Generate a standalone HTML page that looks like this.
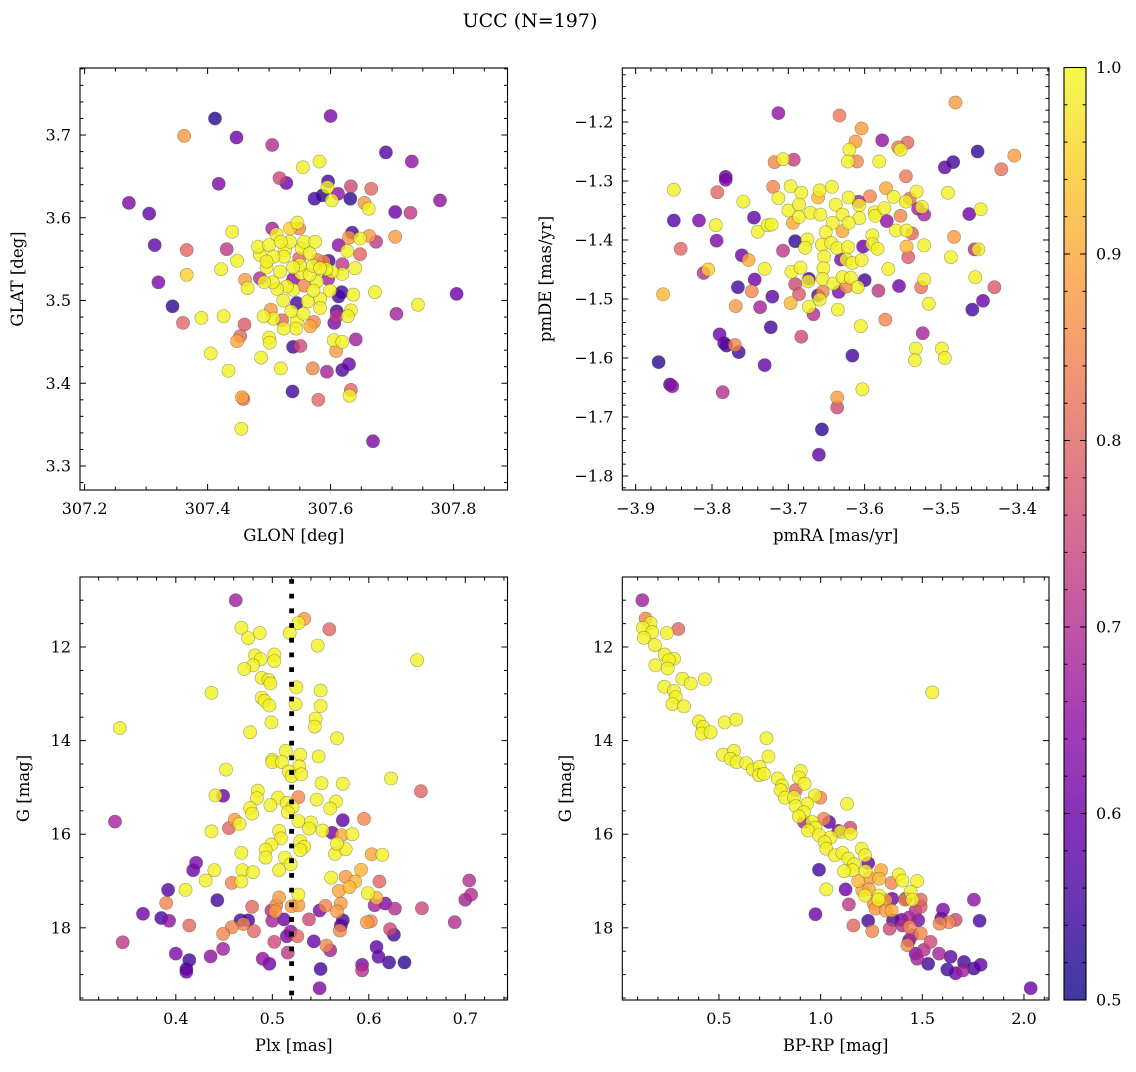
<!DOCTYPE html>
<html><head><meta charset="utf-8"><style>
html,body{margin:0;padding:0;background:#fff}
svg text{font-family:"DejaVu Serif","Liberation Serif",serif;fill:#000}
</style></head><body>
<svg id="fig" width="1136" height="1067" viewBox="0 0 1136 1067" xmlns="http://www.w3.org/2000/svg">
<defs>
<linearGradient id="plasmaGrad" x1="0" y1="1" x2="0" y2="0">
<stop offset="0" stop-color="#0d0887" stop-opacity="0.8"/><stop offset="0.1" stop-color="#41049d" stop-opacity="0.8"/><stop offset="0.2" stop-color="#6a00a8" stop-opacity="0.8"/><stop offset="0.3" stop-color="#8f0da4" stop-opacity="0.8"/><stop offset="0.4" stop-color="#b12a90" stop-opacity="0.8"/><stop offset="0.5" stop-color="#cc4778" stop-opacity="0.8"/><stop offset="0.6" stop-color="#e16462" stop-opacity="0.8"/><stop offset="0.7" stop-color="#f2844b" stop-opacity="0.8"/><stop offset="0.8" stop-color="#fca636" stop-opacity="0.8"/><stop offset="0.9" stop-color="#fcce25" stop-opacity="0.8"/><stop offset="1" stop-color="#f0f921" stop-opacity="0.8"/>
</linearGradient>
</defs>
<text x="530" y="27" font-size="19" text-anchor="middle">UCC (N=197)</text>
</svg>
<script>
// ---- Panel 1 data: GLON / GLAT ----
const glon=[307.412,307.600,307.362,307.447,307.505,307.690,307.732,307.555,307.582,307.418,307.517,307.528,307.596,307.595,307.612,307.633,307.666,307.574,307.587,307.602,307.632,307.655,307.662,307.272,307.778,307.305,307.705,307.730,307.314,307.366,307.431,307.440,307.505,307.534,307.546,307.549,307.635,307.630,307.648,307.663,307.674,307.705,307.613,307.627,307.648,307.320,307.366,307.448,307.422,307.343,307.360,307.390,307.426,307.460,307.453,307.448,307.405,307.434,307.487,307.500,307.501,307.519,307.539,307.551,307.571,307.594,307.619,307.630,307.641,307.609,307.605,307.619,307.538,307.458,307.456,307.580,307.633,307.631,307.455,307.669,307.805,307.742,307.707,307.672,307.637,307.618,307.613,307.610,307.610,307.606,307.633,307.628,307.597,307.619,307.589,307.640,307.619,307.602,307.593,307.596,307.599,307.583,307.583,307.545,307.563,307.573,307.567,307.545,307.544,307.524,307.521,307.507,307.503,307.491,307.536,307.556,307.523,307.539,307.529,307.513,307.506,307.485,307.492,307.461,307.465,307.557,307.578,307.572,307.552,307.566,307.571,307.550,307.539,307.518,307.496,307.485,307.482,307.500,307.512,307.526,307.524,307.507,307.496,307.553,307.566,307.557,307.575,307.549,307.534,307.519,307.539,307.583,307.578];
const glat=[3.720,3.723,3.699,3.697,3.688,3.679,3.668,3.661,3.668,3.641,3.648,3.642,3.644,3.637,3.629,3.638,3.635,3.623,3.627,3.621,3.623,3.618,3.611,3.618,3.621,3.605,3.607,3.606,3.567,3.561,3.562,3.583,3.587,3.587,3.594,3.587,3.582,3.576,3.575,3.578,3.571,3.577,3.567,3.560,3.556,3.522,3.531,3.548,3.538,3.493,3.473,3.479,3.481,3.471,3.457,3.451,3.436,3.415,3.431,3.455,3.449,3.418,3.444,3.445,3.418,3.414,3.416,3.423,3.453,3.439,3.452,3.450,3.390,3.381,3.383,3.380,3.392,3.385,3.345,3.330,3.508,3.495,3.484,3.510,3.507,3.510,3.505,3.487,3.481,3.473,3.488,3.481,3.548,3.544,3.547,3.539,3.532,3.535,3.538,3.526,3.512,3.502,3.491,3.497,3.499,3.474,3.469,3.475,3.466,3.466,3.476,3.478,3.489,3.481,3.487,3.484,3.500,3.513,3.517,3.514,3.522,3.527,3.522,3.525,3.515,3.518,3.523,3.512,3.533,3.531,3.542,3.543,3.526,3.535,3.540,3.555,3.565,3.567,3.580,3.561,3.553,3.553,3.547,3.563,3.557,3.571,3.571,3.551,3.571,3.571,3.540,3.539,3.549];
const prob1=[.52,.62,.88,.6,.7,.57,.65,.99,.99,.62,.75,.6,.55,.99,.65,.75,.8,.55,.52,.99,.53,.88,.99,.62,.65,.58,.6,.72,.58,.8,.72,.99,.68,.95,.99,.85,.55,.88,.99,.88,.72,.88,.65,.99,.8,.62,.95,.99,.99,.53,.8,.99,.99,.78,.8,.9,.99,.99,.99,.99,.99,.99,.55,.75,.85,.68,.57,.6,.67,.88,.99,.99,.55,.8,.9,.8,.8,.99,.99,.62,.6,.99,.68,.99,.99,.55,.55,.55,.72,.62,.99,.99,.55,.72,.85,.99,.99,.99,.99,.68,.99,.99,.99,.55,.99,.85,.9,.99,.99,.99,.8,.99,.88,.99,.99,.99,.99,.99,.99,.99,.99,.7,.99,.88,.99,.85,.99,.99,.99,.99,.99,.99,.65,.99,.99,.99,.99,.99,.99,.99,.99,.99,.99,.99,.99,.99,.99,.8,.99,.99,.99,.99,.85];
// ---- Panel 2 data: pmRA / pmDE ----
const pmra=[-3.481,-3.713,-3.633,-3.604,-3.612,-3.577,-3.556,-3.544,-3.553,-3.620,-3.622,-3.610,-3.581,-3.452,-3.404,-3.484,-3.495,-3.421,-3.718,-3.707,-3.693,-3.782,-3.782,-3.793,-3.850,-3.546,-3.491,-3.720,-3.697,-3.713,-3.683,-3.659,-3.643,-3.661,-3.621,-3.593,-3.572,-3.562,-3.532,-3.541,-3.546,-3.759,-3.850,-3.817,-3.795,-3.745,-3.794,-3.841,-3.740,-3.727,-3.722,-3.700,-3.686,-3.694,-3.686,-3.671,-3.658,-3.638,-3.629,-3.607,-3.608,-3.607,-3.621,-3.642,-3.651,-3.629,-3.587,-3.586,-3.574,-3.571,-3.553,-3.530,-3.525,-3.522,-3.463,-3.448,-3.559,-3.545,-3.538,-3.590,-3.691,-3.675,-3.678,-3.707,-3.656,-3.644,-3.636,-3.622,-3.602,-3.590,-3.583,-3.545,-3.522,-3.483,-3.456,-3.451,-3.487,-3.543,-3.761,-3.752,-3.653,-3.631,-3.624,-3.616,-3.604,-3.811,-3.805,-3.731,-3.696,-3.684,-3.654,-3.569,-3.455,-3.744,-3.766,-3.748,-3.721,-3.737,-3.769,-3.864,-3.691,-3.686,-3.697,-3.673,-3.674,-3.655,-3.641,-3.629,-3.618,-3.624,-3.634,-3.655,-3.661,-3.659,-3.673,-3.667,-3.635,-3.600,-3.609,-3.582,-3.555,-3.526,-3.522,-3.516,-3.459,-3.445,-3.430,-3.605,-3.573,-3.524,-3.533,-3.534,-3.499,-3.495,-3.723,-3.683,-3.790,-3.784,-3.781,-3.770,-3.765,-3.870,-3.731,-3.616,-3.855,-3.852,-3.786,-3.603,-3.636,-3.636,-3.656,-3.660];
const pmde=[-1.167,-1.185,-1.189,-1.211,-1.233,-1.231,-1.243,-1.235,-1.247,-1.247,-1.267,-1.267,-1.267,-1.250,-1.257,-1.268,-1.277,-1.280,-1.268,-1.263,-1.264,-1.293,-1.298,-1.319,-1.315,-1.292,-1.320,-1.310,-1.309,-1.329,-1.320,-1.316,-1.310,-1.328,-1.328,-1.326,-1.312,-1.327,-1.318,-1.330,-1.335,-1.335,-1.367,-1.367,-1.375,-1.362,-1.401,-1.415,-1.386,-1.375,-1.374,-1.350,-1.340,-1.371,-1.361,-1.354,-1.357,-1.340,-1.357,-1.341,-1.335,-1.363,-1.371,-1.371,-1.387,-1.385,-1.353,-1.359,-1.346,-1.368,-1.359,-1.347,-1.344,-1.357,-1.356,-1.348,-1.384,-1.384,-1.389,-1.392,-1.402,-1.399,-1.413,-1.418,-1.408,-1.405,-1.414,-1.412,-1.411,-1.407,-1.415,-1.411,-1.409,-1.395,-1.416,-1.416,-1.429,-1.429,-1.426,-1.434,-1.428,-1.433,-1.433,-1.439,-1.434,-1.456,-1.450,-1.449,-1.454,-1.447,-1.448,-1.449,-1.463,-1.467,-1.480,-1.487,-1.496,-1.514,-1.512,-1.492,-1.475,-1.492,-1.507,-1.466,-1.470,-1.466,-1.474,-1.463,-1.464,-1.479,-1.488,-1.488,-1.494,-1.501,-1.513,-1.526,-1.518,-1.468,-1.480,-1.486,-1.478,-1.480,-1.467,-1.508,-1.518,-1.503,-1.480,-1.546,-1.535,-1.558,-1.584,-1.604,-1.584,-1.600,-1.548,-1.564,-1.560,-1.575,-1.579,-1.578,-1.590,-1.607,-1.612,-1.596,-1.645,-1.648,-1.658,-1.653,-1.667,-1.684,-1.721,-1.764];
const prob2=[.88,.65,.83,.88,.88,.65,.83,.8,.99,.99,.99,.85,.99,.53,.88,.55,.58,.82,.85,.99,.73,.6,.62,.8,.99,.83,.99,.85,.99,.99,.99,.99,.99,.92,.99,.85,.9,.99,.99,.82,.99,.99,.57,.62,.99,.58,.62,.8,.99,.99,.99,.99,.99,.9,.99,.99,.99,.99,.99,.99,.68,.99,.99,.99,.99,.9,.99,.99,.99,.65,.85,.68,.99,.68,.6,.99,.99,.99,.8,.99,.53,.99,.99,.72,.99,.99,.99,.99,.6,.99,.99,.92,.99,.88,.7,.99,.99,.78,.6,.9,.99,.62,.99,.99,.99,.7,.95,.99,.99,.99,.99,.99,.99,.6,.55,.85,.58,.68,.88,.92,.75,.78,.92,.55,.99,.99,.99,.99,.99,.85,.62,.85,.55,.99,.99,.7,.99,.55,.99,.72,.6,.82,.99,.99,.55,.6,.78,.99,.85,.68,.99,.99,.99,.99,.55,.75,.6,.58,.55,.85,.55,.53,.58,.55,.55,.65,.7,.99,.88,.75,.53,.58];
// ---- Panel 3 data: Plx / G ----
const plx=[.462,.533,.527,.559,.468,.487,.475,.518,.547,.482,.502,.502,.488,.480,.471,.650,.489,.496,.498,.437,.525,.550,.489,.492,.497,.524,.550,.342,.499,.545,.544,.477,.567,.514,.500,.500,.510,.529,.548,.528,.517,.520,.530,.452,.623,.551,.573,.654,.441,.449,.485,.484,.506,.515,.521,.516,.527,.498,.477,.479,.546,.566,.560,.337,.573,.595,.461,.466,.455,.437,.527,.540,.538,.552,.562,.572,.583,.507,.509,.529,.533,.529,.499,.493,.493,.468,.513,.519,.565,.576,.567,.603,.614,.421,.418,.440,.469,.480,.507,.592,.431,.458,.468,.561,.576,.586,.580,.611,.704,.410,.392,.569,.599,.527,.507,.608,.706,.700,.390,.443,.479,.504,.520,.527,.555,.571,.606,.617,.627,.655,.366,.385,.393,.414,.499,.503,.549,.567,.500,.512,.538,.573,.571,.570,.602,.689,.467,.475,.470,.458,.481,.449,.345,.400,.414,.411,.411,.436,.449,.490,.497,.502,.515,.516,.519,.526,.543,.556,.560,.550,.549,.593,.593,.608,.610,.621,.637,.626,.622,.598];
const gmag3=[11.00,11.40,11.49,11.62,11.59,11.70,11.81,11.70,11.97,12.18,12.16,12.30,12.26,12.39,12.47,12.28,12.66,12.70,12.78,12.98,12.86,12.93,13.08,13.15,13.25,13.22,13.26,13.73,13.61,13.53,13.70,13.82,13.95,14.22,14.41,14.46,14.46,14.30,14.34,14.55,14.66,14.76,14.72,14.62,14.81,14.91,14.92,15.08,15.17,15.18,15.07,15.23,15.22,15.33,15.42,15.53,15.21,15.38,15.44,15.56,15.26,15.30,15.45,15.73,15.70,15.67,15.69,15.78,15.87,15.94,15.72,15.75,15.88,15.92,15.97,16.02,16.00,15.93,16.09,16.15,16.27,16.34,16.22,16.33,16.50,16.40,16.50,16.64,16.42,16.32,16.20,16.43,16.44,16.61,16.77,16.77,16.77,16.81,16.77,16.76,16.99,17.04,17.01,16.93,16.91,17.01,17.13,17.01,16.99,17.19,17.19,17.21,17.26,17.29,17.35,17.36,17.29,17.40,17.47,17.41,17.55,17.52,17.54,17.52,17.53,17.48,17.52,17.48,17.59,17.58,17.70,17.79,17.85,17.95,17.63,17.65,17.63,17.65,17.85,17.82,17.82,17.84,17.95,18.06,17.86,17.88,17.84,17.84,17.92,17.99,18.07,18.13,18.31,18.55,18.69,18.88,18.94,18.61,18.45,18.66,18.77,18.30,18.18,18.53,18.08,18.18,18.29,18.38,18.48,18.88,19.29,18.79,18.91,18.41,18.62,18.74,18.74,18.15,18.03,17.88];
const prob3=[.67,.88,.99,.8,.99,.99,.99,.99,.99,.99,.99,.99,.99,.99,.99,.99,.99,.99,.99,.99,.99,.99,.99,.99,.99,.99,.99,.99,.99,.99,.99,.99,.99,.99,.99,.99,.99,.99,.99,.99,.99,.99,.99,.99,.99,.99,.99,.8,.99,.6,.99,.99,.99,.99,.99,.99,.85,.99,.99,.99,.99,.99,.99,.68,.58,.85,.88,.99,.8,.99,.99,.99,.99,.99,.6,.9,.99,.99,.99,.99,.99,.99,.99,.99,.99,.99,.99,.99,.99,.99,.99,.9,.99,.62,.6,.99,.99,.99,.99,.92,.99,.85,.99,.99,.88,.92,.92,.8,.7,.99,.57,.9,.99,.99,.88,.92,.7,.68,.85,.55,.8,.85,.88,.88,.85,.88,.68,.62,.7,.75,.6,.55,.65,.8,.7,.88,.62,.88,.68,.6,.75,.55,.58,.85,.85,.7,.55,.55,.85,.85,.8,.85,.72,.62,.55,.55,.6,.65,.67,.65,.6,.75,.62,.72,.65,.8,.6,.85,.68,.55,.62,.62,.7,.58,.58,.55,.53,.55,.75,.88];
// ---- Panel 4 data: BP-RP / G ----
const bprp=[.123,.139,.164,.126,.172,.131,.244,.300,.185,.233,.279,.254,.187,.248,.320,.361,.431,.231,.279,.287,.271,.328,1.549,.402,.421,.415,.459,.528,.585,.734,.520,.574,.557,.587,.634,.667,.700,.697,.721,.743,.789,.811,.902,.893,.921,.877,.803,.825,.869,.972,.998,.934,.877,.918,.893,1.130,1.016,1.041,.918,.959,.975,.938,.992,1.087,1.098,1.146,1.148,1.049,1.020,1.028,1.070,1.107,1.136,1.202,1.218,1.234,1.164,1.156,1.115,1.221,.992,1.028,.975,1.123,1.139,1.185,1.241,1.287,1.298,1.349,1.385,1.402,1.475,1.205,1.238,1.218,1.287,1.284,1.262,1.320,1.352,1.270,1.320,1.349,1.415,1.443,1.451,1.418,1.492,1.492,1.467,1.602,1.754,1.782,1.664,1.631,1.585,1.593,1.234,1.161,1.254,1.339,1.356,1.398,1.435,1.480,1.402,1.438,1.492,1.451,1.426,1.435,1.541,1.508,1.582,1.467,1.475,1.529,1.639,1.705,1.623,1.664,1.700,1.754,1.787,2.033];
const gmag4=[11.00,11.39,11.49,11.59,11.68,11.80,11.70,11.615,11.96,12.16,12.25,12.28,12.39,12.46,12.68,12.78,12.69,12.85,12.94,13.07,13.22,13.27,12.97,13.59,13.71,13.85,13.82,13.61,13.55,13.95,14.30,14.22,14.39,14.46,14.48,14.62,14.56,14.74,14.71,14.34,14.81,14.96,14.65,14.79,14.92,15.06,15.06,15.22,15.21,15.17,15.22,15.35,15.40,15.53,15.62,15.35,15.67,15.74,15.74,15.74,15.86,15.92,16.02,15.93,15.95,15.86,15.99,16.07,16.17,16.31,16.45,16.40,16.52,16.31,16.45,16.62,16.64,16.77,16.79,16.79,16.76,17.18,17.71,17.18,17.50,17.00,16.93,16.95,16.77,17.04,16.86,16.99,17.00,17.20,17.18,17.31,17.31,17.40,17.48,17.41,17.38,17.59,17.63,17.63,17.40,17.23,17.40,17.38,17.40,17.55,17.63,17.61,17.40,17.85,17.83,17.88,17.91,17.80,17.85,17.95,18.07,18.02,17.84,17.83,17.78,17.84,17.95,17.98,18.12,18.16,18.37,18.27,18.30,18.47,18.55,18.55,18.66,18.77,18.62,18.73,18.89,18.97,18.91,18.87,18.79,19.29];
const prob4=[.67,.85,.99,.99,.99,.99,.99,.8,.99,.99,.99,.99,.99,.99,.99,.99,.99,.99,.99,.99,.99,.99,.99,.99,.99,.99,.99,.99,.99,.99,.99,.99,.99,.99,.99,.99,.99,.99,.99,.99,.99,.99,.99,.99,.99,.8,.99,.99,.99,.99,.85,.99,.99,.99,.99,.99,.85,.58,.68,.99,.99,.99,.99,.62,.99,.75,.99,.99,.99,.99,.99,.99,.99,.99,.99,.6,.99,.99,.99,.99,.55,.99,.6,.6,.72,.92,.88,.92,.9,.85,.99,.99,.99,.9,.9,.99,.99,.99,.88,.88,.6,.88,.88,.9,.85,.99,.99,.55,.8,.78,.7,.62,.65,.55,.75,.85,.85,.58,.55,.8,.85,.75,.55,.6,.68,.62,.7,.85,.85,.7,.85,.58,.75,.7,.68,.62,.68,.55,.58,.55,.55,.6,.67,.55,.58,.6];
// ---- Tick values ----
const p1xTicks=[307.2,307.4,307.6,307.8], p1yTicks=[3.3,3.4,3.5,3.6,3.7];
const p2xTicks=[-3.9,-3.8,-3.7,-3.6,-3.5,-3.4], p2yTicks=[-1.8,-1.7,-1.6,-1.5,-1.4,-1.3,-1.2];
const p3xTicks=[0.4,0.5,0.6,0.7], gTicks=[12,14,16,18];
const p4xTicks=[0.5,1.0,1.5,2.0];
const cbTicks=[0.5,0.6,0.7,0.8,0.9,1.0];
const plxMean=[0.52];

const NS="http://www.w3.org/2000/svg";
const svg=document.getElementById('fig');
function mk(tag,attrs,parent){const e=document.createElementNS(NS,tag);for(const k in attrs)e.setAttribute(k,attrs[k]);(parent||svg).appendChild(e);return e;}
const stops=[[13,8,135],[65,4,157],[106,0,168],[143,13,164],[177,42,144],[204,71,120],[225,100,98],[242,132,75],[252,166,54],[252,206,37],[240,249,33]];
function plasma(v){let t=Math.max(0,Math.min(1,(v-0.5)/0.5))*10;const i=Math.min(9,Math.floor(t)),f=t-i;const a=stops[i],b=stops[i+1];return 'rgb('+a.map((x,k)=>Math.round(x+(b[k]-x)*f)).join(',')+')';}
function fmt(v,d){const s=Math.abs(v).toFixed(d);return (v<0?'\u2212':'')+s;}
function lin(d0,d1,r0,r1){return v=>r0+(v-d0)/(d1-d0)*(r1-r0);}

function panel(o){
  const g=mk('g',{});
  
  
  const sx=lin(o.xd[0],o.xd[1],o.L,o.R), sy=lin(o.yd[0],o.yd[1],o.B,o.T);
  const idx=o.xs.map((_,i)=>i).sort((a,b)=>o.cs[a]-o.cs[b]);
  const pg=mk('g',{},g);
  
  
  idx.forEach(i=>{const c=mk('circle',{cx:sx(o.xs[i]).toFixed(1),cy:sy(o.ys[i]).toFixed(1),r:6.6,fill:plasma(o.cs[i]),'fill-opacity':0.8,stroke:'rgba(60,60,30,0.45)','stroke-width':0.6},pg);
    
    });
  if(o.extra)o.extra(g,sx,sy);
  mk('rect',{x:o.L,y:o.T,width:o.R-o.L,height:o.B-o.T,fill:'none',stroke:'#000','stroke-width':1.1},g);
  const tg=mk('g',{stroke:'#000','stroke-width':1},g);
  const xmin=Math.min(...o.xd),xmax=Math.max(...o.xd),ymin=Math.min(...o.yd),ymax=Math.max(...o.yd);
  for(let v=Math.ceil(xmin/o.xminor-1e-9)*o.xminor;v<=xmax;v+=o.xminor){const x=sx(v);const maj=Math.abs(Math.round(v/o.xmaj)*o.xmaj-v)<1e-6;const l=maj?6:3.5;
    mk('line',{x1:x,x2:x,y1:o.B,y2:o.B-l},tg);mk('line',{x1:x,x2:x,y1:o.T,y2:o.T+l},tg);}
  for(let v=Math.ceil(ymin/o.yminor-1e-9)*o.yminor;v<=ymax;v+=o.yminor){const y=sy(v);const maj=Math.abs(Math.round(v/o.ymaj)*o.ymaj-v)<1e-6;const l=maj?6:3.5;
    mk('line',{y1:y,y2:y,x1:o.L,x2:o.L+l},tg);mk('line',{y1:y,y2:y,x1:o.R,x2:o.R-l},tg);}
  o.xt.forEach(v=>{const t=mk('text',{x:sx(v),y:o.B+24,'font-size':16,'text-anchor':'middle'},g);t.textContent=fmt(v,o.xdec);
    
    });
  o.yt.forEach(v=>{const t=mk('text',{x:o.L-9,y:sy(v)+5.5,'font-size':16,'text-anchor':'end'},g);t.textContent=fmt(v,o.ydec);
    
    });
  const xl=mk('text',{x:(o.L+o.R)/2,y:o.B+51,'font-size':16.5,'text-anchor':'middle'},g);xl.textContent=o.xlab;
  
  
  const yx=o.ylx,yy=(o.T+o.B)/2;
  const yl=mk('text',{x:yx,y:yy,'font-size':16.5,'text-anchor':'middle',transform:'rotate(-90 '+yx+' '+yy+')'},g);yl.textContent=o.ylab;
  
  
}
panel({name:'glon-glat-panel',L:80,R:507.5,T:68,B:490,xd:[307.1925,307.8877],yd:[3.271,3.781],xs:glon,ys:glat,cs:prob1,xt:p1xTicks,yt:p1yTicks,xminor:0.05,xmaj:0.2,yminor:0.02,ymaj:0.1,xdec:1,ydec:1,xlab:'GLON [deg]',ylab:'GLAT [deg]',ylx:23});
panel({name:'pm-panel',L:622.3,R:1049,T:68,B:490,xd:[-3.9175,-3.9175+(1049-622.3)*3/2290],yd:[-1.1085-(490-68)*3/1770,-1.1085],xs:pmra,ys:pmde,cs:prob2,xt:p2xTicks,yt:p2yTicks,xminor:0.02,xmaj:0.1,yminor:0.02,ymaj:0.1,xdec:1,ydec:1,xlab:'pmRA [mas/yr]',ylab:'pmDE [mas/yr]',ylx:551});
panel({name:'plx-g-panel',L:80,R:507.5,T:577,B:1000,xd:[0.3007,0.3007+427.5*3/2895],yd:[10.504+423*3/140.4,10.504],xs:plx,ys:gmag3,cs:prob3,xt:p3xTicks,yt:gTicks,xminor:0.02,xmaj:0.1,yminor:0.5,ymaj:2,xdec:1,ydec:0,xlab:'Plx [mas]',ylab:'G [mag]',ylx:29,
  extra:(g,sx,sy)=>{plxMean.forEach(m=>{const l=mk('line',{x1:sx(m),x2:sx(m),y1:577,y2:1000,stroke:'#000','stroke-width':4.8,'stroke-dasharray':'4.8 9.9','stroke-dashoffset':-2},g);
    
    });}});
panel({name:'cmd-panel',L:622.3,R:1049,T:577,B:1000,xd:[0.0246,0.0246+(1049-622.3)*3/610],yd:[10.504+423*3/140.4,10.504],xs:bprp,ys:gmag4,cs:prob4,xt:p4xTicks,yt:gTicks,xminor:0.1,xmaj:0.5,yminor:0.5,ymaj:2,xdec:1,ydec:0,xlab:'BP-RP [mag]',ylab:'G [mag]',ylx:571});

const cb=mk('g',{});


const cL=1064,cR=1086,cT=67.5,cB=1000;
mk('rect',{x:cL,y:cT,width:cR-cL,height:cB-cT,fill:'url(#plasmaGrad)',stroke:'#000','stroke-width':1.1},cb);
const cy=lin(0.5,1.0,cB,cT);
for(let v=0.5;v<=1.0001;v+=0.02){const y=cy(v);const maj=Math.abs(Math.round(v*10)/10-v)<1e-6;const l=maj?6:3.5;
  mk('line',{x1:cR,x2:cR-l,y1:y,y2:y,stroke:'#000','stroke-width':1},cb);mk('line',{x1:cL,x2:cL+l,y1:y,y2:y,stroke:'#000','stroke-width':1},cb);}
cbTicks.forEach(v=>{const t=mk('text',{x:cR+10,y:cy(v)+5.5,'font-size':16},cb);t.textContent=v.toFixed(1);
  
  });
</script>
</body></html>
